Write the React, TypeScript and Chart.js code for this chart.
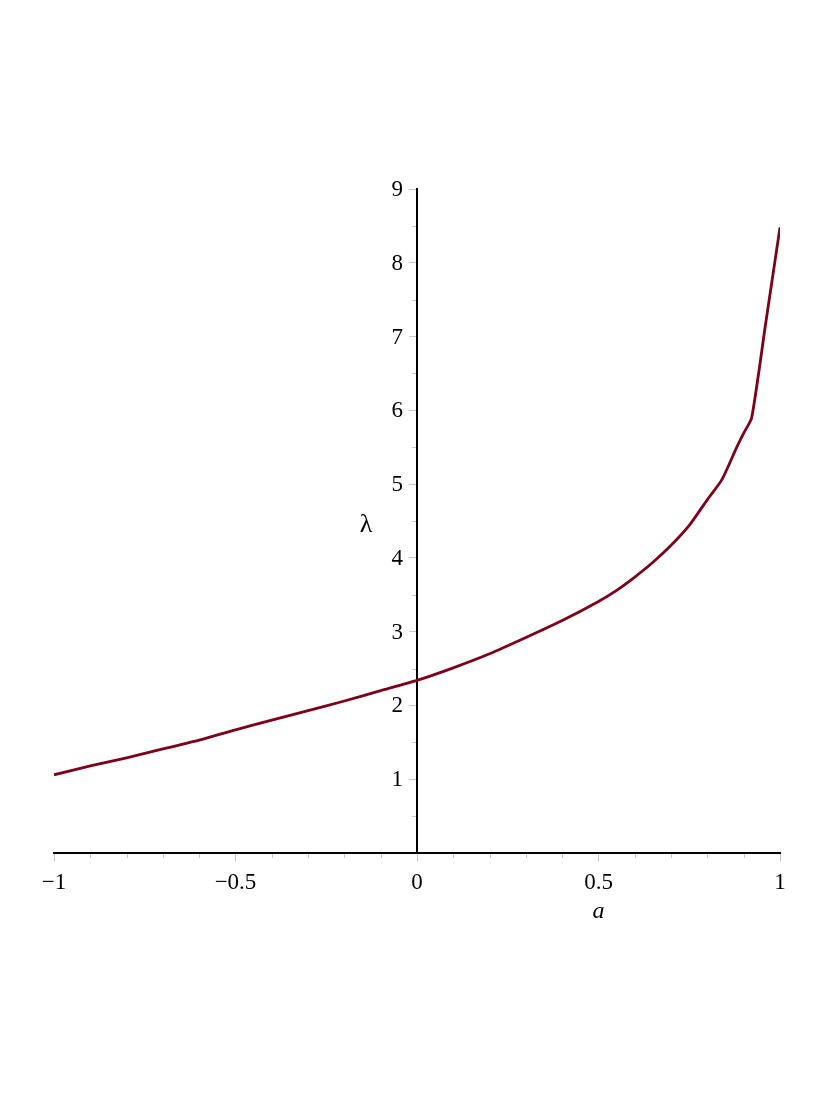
import React, { useEffect, useRef } from "react";
import { Chart, registerables } from "chart.js";

Chart.register(...registerables);

const aValues = [-1, -0.9, -0.8, -0.7, -0.6, -0.5, -0.4, -0.3, -0.2, -0.1, 0, 0.1, 0.2, 0.3, 0.4, 0.5, 0.55, 0.6, 0.65, 0.7, 0.75, 0.8, 0.84, 0.88, 0.9, 0.922, 0.96, 1];
const lambdaValues = [1.06, 1.18, 1.29, 1.41, 1.53, 1.67, 1.8, 1.93, 2.06, 2.2, 2.34, 2.51, 2.7, 2.92, 3.15, 3.41, 3.56, 3.74, 3.94, 4.17, 4.44, 4.79, 5.06, 5.49, 5.69, 5.9, 7.16, 8.48];
const xTicks = [-1, -0.5, 0, 0.5, 1];
const yTicks = [1, 2, 3, 4, 5, 6, 7, 8, 9];
const xMinorTicks = [-0.9, -0.8, -0.7, -0.6, -0.4, -0.3, -0.2, -0.1, 0.1, 0.2, 0.3, 0.4, 0.6, 0.7, 0.8, 0.9];
const yMinorTicks = [0.5, 1.5, 2.5, 3.5, 4.5, 5.5, 6.5, 7.5, 8.5];
const xTitle = "a";
const yTitle = "λ";

const fmt = (v: number) => (v < 0 ? "\u2212" + String(Math.abs(v)) : String(v));

const overlayPlugin = {
  id: "overlay",
  afterDraw(chart: any) {
    const ctx = chart.ctx;
    const xs = chart.scales.x;
    const ys = chart.scales.y;
    const x0 = xs.getPixelForValue(0);
    const y0 = ys.getPixelForValue(0);
    ctx.save();
    ctx.strokeStyle = "#c8c8c8";
    ctx.lineWidth = 1;
    ctx.beginPath();
    xMinorTicks.forEach((v) => {
      const px = Math.round(xs.getPixelForValue(v)) + 0.5;
      ctx.moveTo(px, y0 + 1);
      ctx.lineTo(px, y0 + 5);
    });
    yMinorTicks.forEach((v) => {
      const py = Math.round(ys.getPixelForValue(v)) + 0.5;
      ctx.moveTo(x0 - 1, py);
      ctx.lineTo(x0 - 5, py);
    });
    ctx.stroke();
    ctx.fillStyle = "#000";
    ctx.font = "23px 'Liberation Serif'";
    ctx.textAlign = "right";
    ctx.textBaseline = "middle";
    ys.ticks.forEach((t: any) => {
      ctx.fillText(fmt(t.value), x0 - 14, ys.getPixelForValue(t.value) + 1);
    });
    ctx.textAlign = "center";
    ctx.font = "italic 24px 'Liberation Serif'";
    ctx.fillText(xTitle, xs.getPixelForValue(0.5), y0 + 59);
    ctx.font = "26px 'Liberation Serif'";
    ctx.fillText(yTitle, x0 - 51, ys.getPixelForValue(4.45));
    ctx.restore();
  },
};

export default function App() {
  const ref = useRef<HTMLCanvasElement | null>(null);
  useEffect(() => {
    if (!ref.current) return;
    const chart = new Chart(ref.current, {
      type: "line",
      data: {
        datasets: [
          {
            data: aValues.map((a, i) => ({ x: a, y: lambdaValues[i] })),
            borderColor: "#7c0018",
            borderWidth: 2.8,
            pointRadius: 0,
            tension: 0.2,
            fill: false,
          },
        ],
      },
      options: {
        animation: false,
        responsive: false,
        layout: { padding: { left: 54, right: 47, top: 189, bottom: 246 } },
        plugins: { legend: { display: false }, tooltip: { enabled: false } },
        scales: {
          x: {
            type: "linear",
            position: { y: 0 },
            min: -1,
            max: 1,
            afterBuildTicks: (s: any) => {
              s.ticks = xTicks.map((v) => ({ value: v }));
            },
            ticks: {
              callback: (v: any) => fmt(Number(v)),
              color: "#000",
              font: { family: "'Liberation Serif'", size: 23 },
              padding: 9,
              maxRotation: 0,
            },
            grid: { drawOnChartArea: false, drawTicks: true, tickLength: 7, tickColor: "#c8c8c8", tickWidth: 1 },
            border: { color: "#000", width: 2 },
          },
          y: {
            type: "linear",
            position: { x: 0 },
            min: 0,
            max: 9,
            afterBuildTicks: (s: any) => {
              s.ticks = yTicks.map((v) => ({ value: v }));
            },
            ticks: { display: false },
            grid: { drawOnChartArea: false, drawTicks: true, tickLength: 7, tickColor: "#c8c8c8", tickWidth: 1 },
            border: { color: "#000", width: 2 },
          },
        },
      },
      plugins: [overlayPlugin],
    } as any);
    return () => chart.destroy();
  }, []);
  return (
    <div style={{ position: "absolute", left: 0, top: 0, width: 827, height: 1099, background: "#fff" }}>
      <canvas ref={ref} width={827} height={1099} />
    </div>
  );
}
